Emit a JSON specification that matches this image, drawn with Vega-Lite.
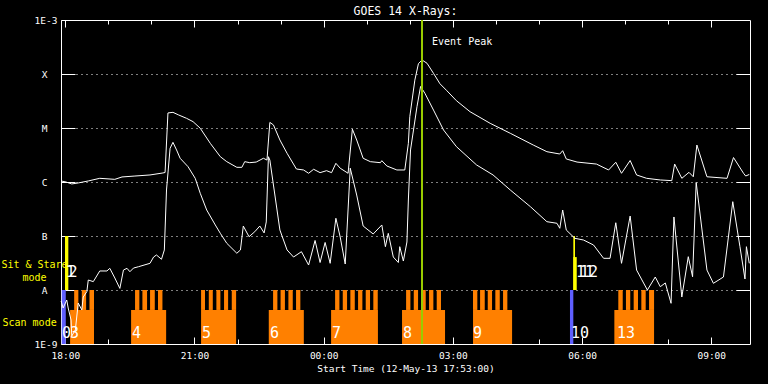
{
  "$schema": "https://vega.github.io/schema/vega-lite/v6.json",
  "width": 689,
  "height": 324,
  "autosize": "none",
  "padding": {"left": 61, "top": 20, "right": 18, "bottom": 40},
  "background": "black",
  "title": {"text": "GOES 14 X-Rays:", "color": "white", "font": "DejaVu Sans Mono", "fontSize": 11.5, "fontWeight": "normal", "offset": -2},
  "config": {
    "view": {"stroke": "white", "strokeWidth": 1},
    "axis": {"labelFont": "DejaVu Sans Mono", "titleFont": "DejaVu Sans Mono", "labelColor": "white", "titleColor": "white", "tickColor": "white", "gridColor": "white", "domain": false, "titleFontWeight": "normal", "labelOverlap": false, "labelFlush": false, "labelBound": false},
    "text": {"font": "DejaVu Sans Mono"}
  },
  "datasets": {
    "bars": [
      {"scan": 0, "t0": "2013-05-12T17:55:00Z", "t1": "2013-05-12T18:00:40Z", "lo": 1e-9, "hi": 1e-8, "kind": "blue"},
      {"scan": 1, "t0": "2013-05-12T17:59:40Z", "t1": "2013-05-12T18:04:00Z", "lo": 1e-8, "hi": 1e-7, "kind": "stare"},
      {"scan": 2, "t0": "2013-05-12T17:59:40Z", "t1": "2013-05-12T18:04:00Z", "lo": 1e-8, "hi": 1e-7, "kind": "stare"},
      {"scan": 3, "t0": "2013-05-12T18:06:40Z", "t1": "2013-05-12T18:40:00Z", "lo": 1e-9, "hi": 4.27e-9, "kind": "scan"},
      {"scan": 3, "t0": "2013-05-12T18:12:20Z", "t1": "2013-05-12T18:18:10Z", "lo": 4.27e-9, "hi": 1e-8, "kind": "scan"},
      {"scan": 3, "t0": "2013-05-12T18:23:00Z", "t1": "2013-05-12T18:29:00Z", "lo": 4.27e-9, "hi": 1e-8, "kind": "scan"},
      {"scan": 3, "t0": "2013-05-12T18:33:40Z", "t1": "2013-05-12T18:40:00Z", "lo": 4.27e-9, "hi": 1e-8, "kind": "scan"},
      {"scan": 4, "t0": "2013-05-12T19:31:40Z", "t1": "2013-05-12T20:20:30Z", "lo": 1e-9, "hi": 4.27e-9, "kind": "scan"},
      {"scan": 4, "t0": "2013-05-12T19:37:10Z", "t1": "2013-05-12T19:43:10Z", "lo": 4.27e-9, "hi": 1e-8, "kind": "scan"},
      {"scan": 4, "t0": "2013-05-12T19:47:25Z", "t1": "2013-05-12T19:53:55Z", "lo": 4.27e-9, "hi": 1e-8, "kind": "scan"},
      {"scan": 4, "t0": "2013-05-12T19:58:05Z", "t1": "2013-05-12T20:04:40Z", "lo": 4.27e-9, "hi": 1e-8, "kind": "scan"},
      {"scan": 4, "t0": "2013-05-12T20:09:10Z", "t1": "2013-05-12T20:15:20Z", "lo": 4.27e-9, "hi": 1e-8, "kind": "scan"},
      {"scan": 5, "t0": "2013-05-12T21:09:10Z", "t1": "2013-05-12T21:58:00Z", "lo": 1e-9, "hi": 4.27e-9, "kind": "scan"},
      {"scan": 5, "t0": "2013-05-12T21:09:10Z", "t1": "2013-05-12T21:14:40Z", "lo": 4.27e-9, "hi": 1e-8, "kind": "scan"},
      {"scan": 5, "t0": "2013-05-12T21:19:55Z", "t1": "2013-05-12T21:25:30Z", "lo": 4.27e-9, "hi": 1e-8, "kind": "scan"},
      {"scan": 5, "t0": "2013-05-12T21:30:30Z", "t1": "2013-05-12T21:36:05Z", "lo": 4.27e-9, "hi": 1e-8, "kind": "scan"},
      {"scan": 5, "t0": "2013-05-12T21:41:10Z", "t1": "2013-05-12T21:46:50Z", "lo": 4.27e-9, "hi": 1e-8, "kind": "scan"},
      {"scan": 5, "t0": "2013-05-12T21:51:55Z", "t1": "2013-05-12T21:58:00Z", "lo": 4.27e-9, "hi": 1e-8, "kind": "scan"},
      {"scan": 6, "t0": "2013-05-12T22:43:30Z", "t1": "2013-05-12T23:32:20Z", "lo": 1e-9, "hi": 4.27e-9, "kind": "scan"},
      {"scan": 6, "t0": "2013-05-12T22:49:30Z", "t1": "2013-05-12T22:55:30Z", "lo": 4.27e-9, "hi": 1e-8, "kind": "scan"},
      {"scan": 6, "t0": "2013-05-12T22:59:55Z", "t1": "2013-05-12T23:06:00Z", "lo": 4.27e-9, "hi": 1e-8, "kind": "scan"},
      {"scan": 6, "t0": "2013-05-12T23:10:50Z", "t1": "2013-05-12T23:16:55Z", "lo": 4.27e-9, "hi": 1e-8, "kind": "scan"},
      {"scan": 6, "t0": "2013-05-12T23:21:30Z", "t1": "2013-05-12T23:27:30Z", "lo": 4.27e-9, "hi": 1e-8, "kind": "scan"},
      {"scan": 7, "t0": "2013-05-13T00:10:20Z", "t1": "2013-05-13T01:15:35Z", "lo": 1e-9, "hi": 4.27e-9, "kind": "scan"},
      {"scan": 7, "t0": "2013-05-13T00:15:55Z", "t1": "2013-05-13T00:21:55Z", "lo": 4.27e-9, "hi": 1e-8, "kind": "scan"},
      {"scan": 7, "t0": "2013-05-13T00:26:35Z", "t1": "2013-05-13T00:32:35Z", "lo": 4.27e-9, "hi": 1e-8, "kind": "scan"},
      {"scan": 7, "t0": "2013-05-13T00:37:10Z", "t1": "2013-05-13T00:43:20Z", "lo": 4.27e-9, "hi": 1e-8, "kind": "scan"},
      {"scan": 7, "t0": "2013-05-13T00:47:55Z", "t1": "2013-05-13T00:53:55Z", "lo": 4.27e-9, "hi": 1e-8, "kind": "scan"},
      {"scan": 7, "t0": "2013-05-13T00:58:35Z", "t1": "2013-05-13T01:04:35Z", "lo": 4.27e-9, "hi": 1e-8, "kind": "scan"},
      {"scan": 7, "t0": "2013-05-13T01:09:10Z", "t1": "2013-05-13T01:15:20Z", "lo": 4.27e-9, "hi": 1e-8, "kind": "scan"},
      {"scan": 8, "t0": "2013-05-13T01:49:10Z", "t1": "2013-05-13T02:49:05Z", "lo": 1e-9, "hi": 4.27e-9, "kind": "scan"},
      {"scan": 8, "t0": "2013-05-13T01:54:50Z", "t1": "2013-05-13T02:00:50Z", "lo": 4.27e-9, "hi": 1e-8, "kind": "scan"},
      {"scan": 8, "t0": "2013-05-13T02:05:30Z", "t1": "2013-05-13T02:11:30Z", "lo": 4.27e-9, "hi": 1e-8, "kind": "scan"},
      {"scan": 8, "t0": "2013-05-13T02:16:05Z", "t1": "2013-05-13T02:22:10Z", "lo": 4.27e-9, "hi": 1e-8, "kind": "scan"},
      {"scan": 8, "t0": "2013-05-13T02:26:50Z", "t1": "2013-05-13T02:32:50Z", "lo": 4.27e-9, "hi": 1e-8, "kind": "scan"},
      {"scan": 8, "t0": "2013-05-13T02:37:30Z", "t1": "2013-05-13T02:43:30Z", "lo": 4.27e-9, "hi": 1e-8, "kind": "scan"},
      {"scan": 9, "t0": "2013-05-13T03:28:05Z", "t1": "2013-05-13T04:22:30Z", "lo": 1e-9, "hi": 4.27e-9, "kind": "scan"},
      {"scan": 9, "t0": "2013-05-13T03:28:05Z", "t1": "2013-05-13T03:34:05Z", "lo": 4.27e-9, "hi": 1e-8, "kind": "scan"},
      {"scan": 9, "t0": "2013-05-13T03:37:55Z", "t1": "2013-05-13T03:44:25Z", "lo": 4.27e-9, "hi": 1e-8, "kind": "scan"},
      {"scan": 9, "t0": "2013-05-13T03:48:35Z", "t1": "2013-05-13T03:54:35Z", "lo": 4.27e-9, "hi": 1e-8, "kind": "scan"},
      {"scan": 9, "t0": "2013-05-13T03:59:10Z", "t1": "2013-05-13T04:05:20Z", "lo": 4.27e-9, "hi": 1e-8, "kind": "scan"},
      {"scan": 9, "t0": "2013-05-13T04:09:55Z", "t1": "2013-05-13T04:15:55Z", "lo": 4.27e-9, "hi": 1e-8, "kind": "scan"},
      {"scan": 10, "t0": "2013-05-13T05:43:10Z", "t1": "2013-05-13T05:47:50Z", "lo": 1e-9, "hi": 1e-8, "kind": "blue"},
      {"scan": 11, "t0": "2013-05-13T05:47:50Z", "t1": "2013-05-13T05:50:10Z", "lo": 1e-8, "hi": 1e-7, "kind": "stare"},
      {"scan": 12, "t0": "2013-05-13T05:47:50Z", "t1": "2013-05-13T05:52:35Z", "lo": 1e-8, "hi": 4.07e-8, "kind": "stare"},
      {"scan": 13, "t0": "2013-05-13T06:45:00Z", "t1": "2013-05-13T07:40:20Z", "lo": 1e-9, "hi": 4.27e-9, "kind": "scan"},
      {"scan": 13, "t0": "2013-05-13T06:50:30Z", "t1": "2013-05-13T06:56:40Z", "lo": 4.27e-9, "hi": 1e-8, "kind": "scan"},
      {"scan": 13, "t0": "2013-05-13T07:01:10Z", "t1": "2013-05-13T07:07:10Z", "lo": 4.27e-9, "hi": 1e-8, "kind": "scan"},
      {"scan": 13, "t0": "2013-05-13T07:11:55Z", "t1": "2013-05-13T07:17:55Z", "lo": 4.27e-9, "hi": 1e-8, "kind": "scan"},
      {"scan": 13, "t0": "2013-05-13T07:22:35Z", "t1": "2013-05-13T07:28:40Z", "lo": 4.27e-9, "hi": 1e-8, "kind": "scan"},
      {"scan": 13, "t0": "2013-05-13T07:33:20Z", "t1": "2013-05-13T07:40:20Z", "lo": 4.27e-9, "hi": 1e-8, "kind": "scan"}
    ],
    "labels": [
      {"t": "2013-05-12T17:55:30Z", "f": 1.63e-9, "label": "0"},
      {"t": "2013-05-12T18:06:40Z", "f": 1.63e-9, "label": "3"},
      {"t": "2013-05-12T19:33:00Z", "f": 1.63e-9, "label": "4"},
      {"t": "2013-05-12T21:10:30Z", "f": 1.63e-9, "label": "5"},
      {"t": "2013-05-12T22:45:20Z", "f": 1.63e-9, "label": "6"},
      {"t": "2013-05-13T00:11:40Z", "f": 1.63e-9, "label": "7"},
      {"t": "2013-05-13T01:50:30Z", "f": 1.63e-9, "label": "8"},
      {"t": "2013-05-13T03:28:00Z", "f": 1.63e-9, "label": "9"},
      {"t": "2013-05-13T05:44:30Z", "f": 1.63e-9, "label": "10"},
      {"t": "2013-05-13T06:48:40Z", "f": 1.63e-9, "label": "13"},
      {"t": "2013-05-12T18:01:00Z", "f": 2.11e-8, "label": "1"},
      {"t": "2013-05-12T18:04:30Z", "f": 2.11e-8, "label": "2"},
      {"t": "2013-05-13T05:51:30Z", "f": 2.11e-8, "label": "11"},
      {"t": "2013-05-13T05:57:00Z", "f": 2.11e-8, "label": "12"}
    ],
    "events": [
      {"t": "2013-05-13T02:17:00Z", "f": 3.9e-4, "label": "Event Peak"}
    ],
    "flux": [
      {"band": "long", "t": "2013-05-12T17:54:10Z", "f": 1.045e-6},
      {"band": "long", "t": "2013-05-12T18:01:00Z", "f": 1.0e-6},
      {"band": "long", "t": "2013-05-12T18:09:00Z", "f": 9.2e-7},
      {"band": "long", "t": "2013-05-12T18:18:00Z", "f": 9.6e-7},
      {"band": "long", "t": "2013-05-12T18:32:00Z", "f": 1.045e-6},
      {"band": "long", "t": "2013-05-12T18:48:00Z", "f": 1.17e-6},
      {"band": "long", "t": "2013-05-12T19:09:00Z", "f": 1.12e-6},
      {"band": "long", "t": "2013-05-12T19:19:00Z", "f": 1.24e-6},
      {"band": "long", "t": "2013-05-12T19:37:00Z", "f": 1.29e-6},
      {"band": "long", "t": "2013-05-12T19:58:00Z", "f": 1.35e-6},
      {"band": "long", "t": "2013-05-12T20:16:00Z", "f": 1.47e-6},
      {"band": "long", "t": "2013-05-12T20:19:00Z", "f": 1.50e-6},
      {"band": "long", "t": "2013-05-12T20:23:00Z", "f": 1.90e-5},
      {"band": "long", "t": "2013-05-12T20:30:00Z", "f": 1.95e-5},
      {"band": "long", "t": "2013-05-12T20:38:00Z", "f": 1.74e-5},
      {"band": "long", "t": "2013-05-12T20:49:00Z", "f": 1.51e-5},
      {"band": "long", "t": "2013-05-12T20:58:00Z", "f": 1.31e-5},
      {"band": "long", "t": "2013-05-12T21:08:00Z", "f": 9.9e-6},
      {"band": "long", "t": "2013-05-12T21:22:00Z", "f": 5.2e-6},
      {"band": "long", "t": "2013-05-12T21:36:00Z", "f": 2.94e-6},
      {"band": "long", "t": "2013-05-12T21:45:00Z", "f": 2.38e-6},
      {"band": "long", "t": "2013-05-12T21:59:00Z", "f": 1.87e-6},
      {"band": "long", "t": "2013-05-12T22:06:00Z", "f": 1.87e-6},
      {"band": "long", "t": "2013-05-12T22:10:00Z", "f": 2.38e-6},
      {"band": "long", "t": "2013-05-12T22:17:00Z", "f": 2.28e-6},
      {"band": "long", "t": "2013-05-12T22:26:00Z", "f": 2.34e-6},
      {"band": "long", "t": "2013-05-12T22:36:00Z", "f": 2.75e-6},
      {"band": "long", "t": "2013-05-12T22:41:00Z", "f": 2.55e-6},
      {"band": "long", "t": "2013-05-12T22:45:00Z", "f": 1.27e-5},
      {"band": "long", "t": "2013-05-12T22:50:00Z", "f": 1.14e-5},
      {"band": "long", "t": "2013-05-12T22:59:00Z", "f": 6.0e-6},
      {"band": "long", "t": "2013-05-12T23:09:00Z", "f": 3.4e-6},
      {"band": "long", "t": "2013-05-12T23:22:00Z", "f": 1.74e-6},
      {"band": "long", "t": "2013-05-12T23:32:00Z", "f": 1.67e-6},
      {"band": "long", "t": "2013-05-12T23:39:00Z", "f": 1.45e-6},
      {"band": "long", "t": "2013-05-12T23:46:00Z", "f": 1.72e-6},
      {"band": "long", "t": "2013-05-12T23:55:00Z", "f": 1.49e-6},
      {"band": "long", "t": "2013-05-13T00:04:00Z", "f": 1.62e-6},
      {"band": "long", "t": "2013-05-13T00:11:00Z", "f": 1.49e-6},
      {"band": "long", "t": "2013-05-13T00:17:00Z", "f": 2.22e-6},
      {"band": "long", "t": "2013-05-13T00:23:00Z", "f": 1.80e-6},
      {"band": "long", "t": "2013-05-13T00:34:00Z", "f": 1.45e-6},
      {"band": "long", "t": "2013-05-13T00:40:00Z", "f": 9.5e-6},
      {"band": "long", "t": "2013-05-13T00:46:00Z", "f": 6.0e-6},
      {"band": "long", "t": "2013-05-13T00:55:00Z", "f": 2.75e-6},
      {"band": "long", "t": "2013-05-13T01:05:00Z", "f": 2.38e-6},
      {"band": "long", "t": "2013-05-13T01:19:00Z", "f": 2.28e-6},
      {"band": "long", "t": "2013-05-13T01:21:00Z", "f": 2.48e-6},
      {"band": "long", "t": "2013-05-13T01:28:00Z", "f": 1.98e-6},
      {"band": "long", "t": "2013-05-13T01:42:00Z", "f": 1.67e-6},
      {"band": "long", "t": "2013-05-13T01:53:00Z", "f": 1.67e-6},
      {"band": "long", "t": "2013-05-13T01:58:00Z", "f": 5.2e-6},
      {"band": "long", "t": "2013-05-13T02:00:00Z", "f": 1.62e-5},
      {"band": "long", "t": "2013-05-13T02:07:00Z", "f": 7.7e-5},
      {"band": "long", "t": "2013-05-13T02:12:00Z", "f": 1.55e-4},
      {"band": "long", "t": "2013-05-13T02:17:00Z", "f": 1.82e-4},
      {"band": "long", "t": "2013-05-13T02:24:00Z", "f": 1.58e-4},
      {"band": "long", "t": "2013-05-13T02:33:00Z", "f": 1.03e-4},
      {"band": "long", "t": "2013-05-13T02:42:00Z", "f": 6.6e-5},
      {"band": "long", "t": "2013-05-13T02:51:00Z", "f": 5.0e-5},
      {"band": "long", "t": "2013-05-13T03:05:00Z", "f": 3.2e-5},
      {"band": "long", "t": "2013-05-13T03:24:00Z", "f": 2.0e-5},
      {"band": "long", "t": "2013-05-13T03:52:00Z", "f": 1.22e-5},
      {"band": "long", "t": "2013-05-13T04:20:00Z", "f": 7.98e-6},
      {"band": "long", "t": "2013-05-13T04:52:00Z", "f": 4.84e-6},
      {"band": "long", "t": "2013-05-13T05:11:00Z", "f": 3.64e-6},
      {"band": "long", "t": "2013-05-13T05:29:00Z", "f": 3.30e-6},
      {"band": "long", "t": "2013-05-13T05:33:00Z", "f": 3.80e-6},
      {"band": "long", "t": "2013-05-13T05:38:00Z", "f": 2.67e-6},
      {"band": "long", "t": "2013-05-13T05:53:00Z", "f": 2.34e-6},
      {"band": "long", "t": "2013-05-13T06:20:00Z", "f": 2.15e-6},
      {"band": "long", "t": "2013-05-13T06:37:00Z", "f": 1.67e-6},
      {"band": "long", "t": "2013-05-13T06:47:00Z", "f": 2.32e-6},
      {"band": "long", "t": "2013-05-13T06:55:00Z", "f": 1.45e-6},
      {"band": "long", "t": "2013-05-13T07:07:00Z", "f": 2.50e-6},
      {"band": "long", "t": "2013-05-13T07:16:00Z", "f": 1.35e-6},
      {"band": "long", "t": "2013-05-13T07:30:00Z", "f": 1.17e-6},
      {"band": "long", "t": "2013-05-13T07:49:00Z", "f": 1.09e-6},
      {"band": "long", "t": "2013-05-13T08:05:00Z", "f": 1.06e-6},
      {"band": "long", "t": "2013-05-13T08:09:00Z", "f": 2.15e-6},
      {"band": "long", "t": "2013-05-13T08:19:00Z", "f": 1.17e-6},
      {"band": "long", "t": "2013-05-13T08:29:00Z", "f": 1.51e-6},
      {"band": "long", "t": "2013-05-13T08:35:00Z", "f": 1.25e-6},
      {"band": "long", "t": "2013-05-13T08:40:00Z", "f": 4.84e-6},
      {"band": "long", "t": "2013-05-13T08:54:00Z", "f": 1.25e-6},
      {"band": "long", "t": "2013-05-13T09:22:00Z", "f": 1.17e-6},
      {"band": "long", "t": "2013-05-13T09:31:00Z", "f": 2.84e-6},
      {"band": "long", "t": "2013-05-13T09:45:00Z", "f": 1.45e-6},
      {"band": "long", "t": "2013-05-13T09:48:00Z", "f": 1.29e-6},
      {"band": "long", "t": "2013-05-13T09:53:00Z", "f": 1.38e-6},
      {"band": "short", "t": "2013-05-12T17:54:10Z", "f": 6.25e-9},
      {"band": "short", "t": "2013-05-12T17:57:00Z", "f": 4.64e-9},
      {"band": "short", "t": "2013-05-12T18:02:00Z", "f": 6.53e-9},
      {"band": "short", "t": "2013-05-12T18:04:00Z", "f": 4.64e-9},
      {"band": "short", "t": "2013-05-12T18:08:00Z", "f": 2.78e-9},
      {"band": "short", "t": "2013-05-12T18:09:00Z", "f": 1.41e-9},
      {"band": "short", "t": "2013-05-12T18:14:00Z", "f": 1.82e-9},
      {"band": "short", "t": "2013-05-12T18:18:00Z", "f": 5.74e-9},
      {"band": "short", "t": "2013-05-12T18:23:00Z", "f": 4.27e-9},
      {"band": "short", "t": "2013-05-12T18:25:00Z", "f": 7.41e-9},
      {"band": "short", "t": "2013-05-12T18:30:00Z", "f": 9.31e-9},
      {"band": "short", "t": "2013-05-12T18:32:00Z", "f": 1.53e-8},
      {"band": "short", "t": "2013-05-12T18:39:00Z", "f": 1.43e-8},
      {"band": "short", "t": "2013-05-12T18:48:00Z", "f": 2.25e-8},
      {"band": "short", "t": "2013-05-12T18:58:00Z", "f": 2.25e-8},
      {"band": "short", "t": "2013-05-12T19:02:00Z", "f": 2.52e-8},
      {"band": "short", "t": "2013-05-12T19:09:00Z", "f": 1.67e-8},
      {"band": "short", "t": "2013-05-12T19:16:00Z", "f": 1.07e-8},
      {"band": "short", "t": "2013-05-12T19:21:00Z", "f": 2.34e-8},
      {"band": "short", "t": "2013-05-12T19:26:00Z", "f": 2.52e-8},
      {"band": "short", "t": "2013-05-12T19:30:00Z", "f": 2.18e-8},
      {"band": "short", "t": "2013-05-12T19:35:00Z", "f": 2.55e-8},
      {"band": "short", "t": "2013-05-12T19:42:00Z", "f": 2.70e-8},
      {"band": "short", "t": "2013-05-12T19:58:00Z", "f": 3.12e-8},
      {"band": "short", "t": "2013-05-12T20:03:00Z", "f": 4.08e-8},
      {"band": "short", "t": "2013-05-12T20:07:00Z", "f": 4.45e-8},
      {"band": "short", "t": "2013-05-12T20:14:00Z", "f": 3.71e-8},
      {"band": "short", "t": "2013-05-12T20:18:00Z", "f": 5.51e-8},
      {"band": "short", "t": "2013-05-12T20:21:00Z", "f": 7.11e-7},
      {"band": "short", "t": "2013-05-12T20:26:00Z", "f": 4.21e-6},
      {"band": "short", "t": "2013-05-12T20:30:00Z", "f": 5.43e-6},
      {"band": "short", "t": "2013-05-12T20:35:00Z", "f": 3.92e-6},
      {"band": "short", "t": "2013-05-12T20:40:00Z", "f": 2.75e-6},
      {"band": "short", "t": "2013-05-12T20:51:00Z", "f": 1.92e-6},
      {"band": "short", "t": "2013-05-12T21:01:00Z", "f": 1.17e-6},
      {"band": "short", "t": "2013-05-12T21:08:00Z", "f": 6.18e-7},
      {"band": "short", "t": "2013-05-12T21:17:00Z", "f": 3.03e-7},
      {"band": "short", "t": "2013-05-12T21:29:00Z", "f": 1.60e-7},
      {"band": "short", "t": "2013-05-12T21:36:00Z", "f": 1.12e-7},
      {"band": "short", "t": "2013-05-12T21:45:00Z", "f": 7.33e-8},
      {"band": "short", "t": "2013-05-12T21:59:00Z", "f": 4.79e-8},
      {"band": "short", "t": "2013-05-12T22:04:00Z", "f": 5.51e-8},
      {"band": "short", "t": "2013-05-12T22:08:00Z", "f": 1.53e-7},
      {"band": "short", "t": "2013-05-12T22:16:00Z", "f": 9.70e-8},
      {"band": "short", "t": "2013-05-12T22:24:00Z", "f": 1.20e-7},
      {"band": "short", "t": "2013-05-12T22:31:00Z", "f": 1.53e-7},
      {"band": "short", "t": "2013-05-12T22:37:00Z", "f": 1.14e-7},
      {"band": "short", "t": "2013-05-12T22:40:00Z", "f": 1.82e-7},
      {"band": "short", "t": "2013-05-12T22:43:00Z", "f": 2.94e-6},
      {"band": "short", "t": "2013-05-12T22:45:00Z", "f": 2.55e-6},
      {"band": "short", "t": "2013-05-12T22:50:00Z", "f": 8.79e-7},
      {"band": "short", "t": "2013-05-12T22:59:00Z", "f": 1.29e-7},
      {"band": "short", "t": "2013-05-12T23:09:00Z", "f": 5.51e-8},
      {"band": "short", "t": "2013-05-12T23:18:00Z", "f": 4.08e-8},
      {"band": "short", "t": "2013-05-12T23:29:00Z", "f": 5.12e-8},
      {"band": "short", "t": "2013-05-12T23:39:00Z", "f": 2.90e-8},
      {"band": "short", "t": "2013-05-12T23:48:00Z", "f": 8.26e-8},
      {"band": "short", "t": "2013-05-12T23:55:00Z", "f": 3.23e-8},
      {"band": "short", "t": "2013-05-13T00:02:00Z", "f": 7.59e-8},
      {"band": "short", "t": "2013-05-13T00:09:00Z", "f": 3.12e-8},
      {"band": "short", "t": "2013-05-13T00:17:00Z", "f": 2.13e-7},
      {"band": "short", "t": "2013-05-13T00:23:00Z", "f": 9.57e-8},
      {"band": "short", "t": "2013-05-13T00:30:00Z", "f": 3.03e-8},
      {"band": "short", "t": "2013-05-13T00:37:00Z", "f": 1.80e-6},
      {"band": "short", "t": "2013-05-13T00:46:00Z", "f": 5.74e-7},
      {"band": "short", "t": "2013-05-13T00:55:00Z", "f": 1.53e-7},
      {"band": "short", "t": "2013-05-13T01:09:00Z", "f": 1.09e-7},
      {"band": "short", "t": "2013-05-13T01:21:00Z", "f": 1.60e-7},
      {"band": "short", "t": "2013-05-13T01:26:00Z", "f": 6.34e-8},
      {"band": "short", "t": "2013-05-13T01:30:00Z", "f": 1.12e-7},
      {"band": "short", "t": "2013-05-13T01:37:00Z", "f": 4.08e-8},
      {"band": "short", "t": "2013-05-13T01:44:00Z", "f": 3.23e-8},
      {"band": "short", "t": "2013-05-13T01:46:00Z", "f": 6.34e-8},
      {"band": "short", "t": "2013-05-13T01:51:00Z", "f": 3.44e-8},
      {"band": "short", "t": "2013-05-13T01:56:00Z", "f": 7.74e-8},
      {"band": "short", "t": "2013-05-13T01:58:00Z", "f": 4.64e-7},
      {"band": "short", "t": "2013-05-13T02:01:00Z", "f": 3.92e-6},
      {"band": "short", "t": "2013-05-13T02:10:00Z", "f": 2.48e-5},
      {"band": "short", "t": "2013-05-13T02:15:00Z", "f": 5.87e-5},
      {"band": "short", "t": "2013-05-13T02:21:00Z", "f": 4.40e-5},
      {"band": "short", "t": "2013-05-13T02:33:00Z", "f": 2.15e-5},
      {"band": "short", "t": "2013-05-13T02:47:00Z", "f": 9.18e-6},
      {"band": "short", "t": "2013-05-13T03:05:00Z", "f": 4.51e-6},
      {"band": "short", "t": "2013-05-13T03:33:00Z", "f": 2.07e-6},
      {"band": "short", "t": "2013-05-13T03:56:00Z", "f": 1.35e-6},
      {"band": "short", "t": "2013-05-13T04:20:00Z", "f": 7.11e-7},
      {"band": "short", "t": "2013-05-13T04:48:00Z", "f": 3.49e-7},
      {"band": "short", "t": "2013-05-13T05:11:00Z", "f": 1.84e-7},
      {"band": "short", "t": "2013-05-13T05:25:00Z", "f": 1.72e-7},
      {"band": "short", "t": "2013-05-13T05:29:00Z", "f": 1.39e-7},
      {"band": "short", "t": "2013-05-13T05:33:00Z", "f": 3.03e-7},
      {"band": "short", "t": "2013-05-13T05:38:00Z", "f": 1.29e-7},
      {"band": "short", "t": "2013-05-13T05:50:00Z", "f": 9.06e-8},
      {"band": "short", "t": "2013-05-13T06:02:00Z", "f": 8.43e-8},
      {"band": "short", "t": "2013-05-13T06:16:00Z", "f": 6.81e-8},
      {"band": "short", "t": "2013-05-13T06:30:00Z", "f": 3.86e-8},
      {"band": "short", "t": "2013-05-13T06:39:00Z", "f": 3.86e-8},
      {"band": "short", "t": "2013-05-13T06:47:00Z", "f": 1.76e-7},
      {"band": "short", "t": "2013-05-13T06:55:00Z", "f": 3.12e-8},
      {"band": "short", "t": "2013-05-13T07:07:00Z", "f": 2.34e-7},
      {"band": "short", "t": "2013-05-13T07:16:00Z", "f": 2.34e-8},
      {"band": "short", "t": "2013-05-13T07:31:00Z", "f": 1.0e-8},
      {"band": "short", "t": "2013-05-13T07:42:00Z", "f": 1.74e-8},
      {"band": "short", "t": "2013-05-13T07:49:00Z", "f": 1.15e-8},
      {"band": "short", "t": "2013-05-13T07:56:00Z", "f": 1.35e-8},
      {"band": "short", "t": "2013-05-13T08:04:00Z", "f": 5.67e-9},
      {"band": "short", "t": "2013-05-13T08:08:00Z", "f": 2.25e-7},
      {"band": "short", "t": "2013-05-13T08:19:00Z", "f": 7.41e-9},
      {"band": "short", "t": "2013-05-13T08:28:00Z", "f": 4.14e-8},
      {"band": "short", "t": "2013-05-13T08:34:00Z", "f": 1.76e-8},
      {"band": "short", "t": "2013-05-13T08:39:00Z", "f": 9.79e-7},
      {"band": "short", "t": "2013-05-13T08:54:00Z", "f": 2.34e-8},
      {"band": "short", "t": "2013-05-13T09:03:00Z", "f": 1.33e-8},
      {"band": "short", "t": "2013-05-13T09:17:00Z", "f": 1.74e-8},
      {"band": "short", "t": "2013-05-13T09:30:00Z", "f": 4.32e-7},
      {"band": "short", "t": "2013-05-13T09:40:00Z", "f": 6.34e-8},
      {"band": "short", "t": "2013-05-13T09:47:00Z", "f": 1.60e-8},
      {"band": "short", "t": "2013-05-13T09:49:00Z", "f": 6.34e-8},
      {"band": "short", "t": "2013-05-13T09:53:00Z", "f": 3.12e-8}
    ]
  },
  "layer": [
    {
      "data": {"name": "bars"},
      "mark": {"type": "rect"},
      "encoding": {
        "x": {"field": "t0", "type": "temporal",
          "scale": {"type": "utc", "nice": false, "domain": [{"year": 2013, "month": 5, "date": 12, "hours": 17, "minutes": 54, "utc": true}, {"year": 2013, "month": 5, "date": 13, "hours": 9, "minutes": 54, "utc": true}]},
          "axis": {
            "orient": "bottom",
            "values": [
              {"year": 2013, "month": 5, "date": 12, "hours": 18, "utc": true},
              {"year": 2013, "month": 5, "date": 12, "hours": 19, "utc": true},
              {"year": 2013, "month": 5, "date": 12, "hours": 20, "utc": true},
              {"year": 2013, "month": 5, "date": 12, "hours": 21, "utc": true},
              {"year": 2013, "month": 5, "date": 12, "hours": 22, "utc": true},
              {"year": 2013, "month": 5, "date": 12, "hours": 23, "utc": true},
              {"year": 2013, "month": 5, "date": 13, "hours": 0, "utc": true},
              {"year": 2013, "month": 5, "date": 13, "hours": 1, "utc": true},
              {"year": 2013, "month": 5, "date": 13, "hours": 2, "utc": true},
              {"year": 2013, "month": 5, "date": 13, "hours": 3, "utc": true},
              {"year": 2013, "month": 5, "date": 13, "hours": 4, "utc": true},
              {"year": 2013, "month": 5, "date": 13, "hours": 5, "utc": true},
              {"year": 2013, "month": 5, "date": 13, "hours": 6, "utc": true},
              {"year": 2013, "month": 5, "date": 13, "hours": 7, "utc": true},
              {"year": 2013, "month": 5, "date": 13, "hours": 8, "utc": true},
              {"year": 2013, "month": 5, "date": 13, "hours": 9, "utc": true}
            ],
            "format": "%H:%M",
            "labelExpr": "utchours(datum.value) % 3 === 0 ? datum.label : ''",
            "tickSize": {"condition": {"test": "utchours(datum.value) % 3 === 0", "value": -7}, "value": -5},
            "labelPadding": 13,
            "labelFontSize": 9.5,
            "grid": false,
            "title": "Start Time (12-May-13 17:53:00)",
            "titleFontSize": 9.5,
            "titlePadding": 2
          }
        },
        "x2": {"field": "t1"},
        "y": {"field": "lo", "type": "quantitative",
          "scale": {"type": "log", "domain": [1e-9, 1e-3], "nice": false},
          "axis": {
            "orient": "left",
            "values": [1e-9, 2.45e-9, 1e-8, 2.96e-8, 1e-7, 1e-6, 1e-5, 1e-4, 1e-3],
            "labelExpr": "datum.value < 2e-9 ? '1E-9' : datum.value < 5e-9 ? 'Scan mode' : datum.value < 2e-8 ? 'A' : datum.value < 5e-8 ? ['Sit & Stare', 'mode'] : datum.value < 2e-7 ? 'B' : datum.value < 2e-6 ? 'C' : datum.value < 2e-5 ? 'M' : datum.value < 2e-4 ? 'X' : '1E-3'",
            "tickSize": -14,
            "tickOpacity": {"condition": {"test": "(datum.value > 2e-9 && datum.value < 5e-9) || (datum.value > 2e-8 && datum.value < 5e-8)", "value": 0}, "value": 1},
            "grid": true,
            "gridDash": [1, 4],
            "gridOpacity": {"condition": {"test": "datum.value > 5e-9 && datum.value < 5e-4 && !(datum.value > 2e-8 && datum.value < 5e-8)", "value": 1}, "value": 0},
            "labelColor": {"condition": {"test": "(datum.value > 2e-9 && datum.value < 5e-9) || (datum.value > 2e-8 && datum.value < 5e-8)", "value": "#ffff00"}, "value": "white"},
            "labelAlign": {"condition": [{"test": "datum.value > 2e-9 && datum.value < 5e-9", "value": "left"}, {"test": "datum.value > 2e-8 && datum.value < 5e-8", "value": "center"}], "value": "right"},
            "labelPadding": {"condition": [{"test": "datum.value > 2e-9 && datum.value < 5e-9", "value": 73}, {"test": "datum.value > 2e-8 && datum.value < 5e-8", "value": 41}, {"test": "datum.value < 2e-9 || datum.value > 5e-4", "value": 18}], "value": 28},
            "labelFontSize": {"condition": {"test": "(datum.value > 2e-9 && datum.value < 5e-9) || (datum.value > 2e-8 && datum.value < 5e-8)", "value": 10}, "value": 9.5},
            "labelLineHeight": 13,
            "title": null
          }
        },
        "y2": {"field": "hi"},
        "color": {"field": "kind", "type": "nominal", "scale": {"domain": ["scan", "blue", "stare"], "range": ["#ff8000", "#5f5fff", "#ffff00"]}, "legend": null}
      }
    },
    {
      "data": {"name": "flux"},
      "mark": {"type": "line", "color": "white", "strokeWidth": 1},
      "encoding": {
        "x": {"field": "t", "type": "temporal",
          "scale": {"type": "utc", "nice": false, "domain": [{"year": 2013, "month": 5, "date": 12, "hours": 17, "minutes": 54, "utc": true}, {"year": 2013, "month": 5, "date": 13, "hours": 9, "minutes": 54, "utc": true}]},
          "axis": {
            "orient": "top",
            "values": [
              {"year": 2013, "month": 5, "date": 12, "hours": 18, "utc": true},
              {"year": 2013, "month": 5, "date": 12, "hours": 19, "utc": true},
              {"year": 2013, "month": 5, "date": 12, "hours": 20, "utc": true},
              {"year": 2013, "month": 5, "date": 12, "hours": 21, "utc": true},
              {"year": 2013, "month": 5, "date": 12, "hours": 22, "utc": true},
              {"year": 2013, "month": 5, "date": 12, "hours": 23, "utc": true},
              {"year": 2013, "month": 5, "date": 13, "hours": 0, "utc": true},
              {"year": 2013, "month": 5, "date": 13, "hours": 1, "utc": true},
              {"year": 2013, "month": 5, "date": 13, "hours": 2, "utc": true},
              {"year": 2013, "month": 5, "date": 13, "hours": 3, "utc": true},
              {"year": 2013, "month": 5, "date": 13, "hours": 4, "utc": true},
              {"year": 2013, "month": 5, "date": 13, "hours": 5, "utc": true},
              {"year": 2013, "month": 5, "date": 13, "hours": 6, "utc": true},
              {"year": 2013, "month": 5, "date": 13, "hours": 7, "utc": true},
              {"year": 2013, "month": 5, "date": 13, "hours": 8, "utc": true},
              {"year": 2013, "month": 5, "date": 13, "hours": 9, "utc": true}
            ],
            "labels": false,
            "tickSize": {"condition": {"test": "utchours(datum.value) % 3 === 0", "value": -7}, "value": -4},
            "grid": false,
            "title": null
          }
        },
        "y": {"field": "f", "type": "quantitative",
          "scale": {"type": "log", "domain": [1e-9, 1e-3], "nice": false},
          "axis": {"orient": "right", "values": [1e-8, 1e-7, 1e-6, 1e-5, 1e-4], "labels": false, "tickSize": -14, "grid": false, "title": null}
        },
        "detail": {"field": "band", "type": "nominal"}
      }
    },
    {
      "data": {"name": "events"},
      "mark": {"type": "rule", "color": "#99cc00", "strokeWidth": 2},
      "encoding": {
        "x": {"field": "t", "type": "temporal", "axis": null}
      }
    },
    {
      "data": {"name": "events"},
      "mark": {"type": "text", "color": "white", "fontSize": 10, "align": "left", "baseline": "middle", "dx": 10},
      "encoding": {
        "x": {"field": "t", "type": "temporal", "axis": null},
        "y": {"field": "f", "type": "quantitative", "axis": null},
        "text": {"field": "label"}
      }
    },
    {
      "data": {"name": "labels"},
      "mark": {"type": "text", "color": "white", "fontSize": 15, "align": "left", "baseline": "middle"},
      "encoding": {
        "x": {"field": "t", "type": "temporal", "axis": null},
        "y": {"field": "f", "type": "quantitative", "axis": null},
        "text": {"field": "label"}
      }
    }
  ],
  "resolve": {"axis": {"x": "independent", "y": "independent"}}
}
